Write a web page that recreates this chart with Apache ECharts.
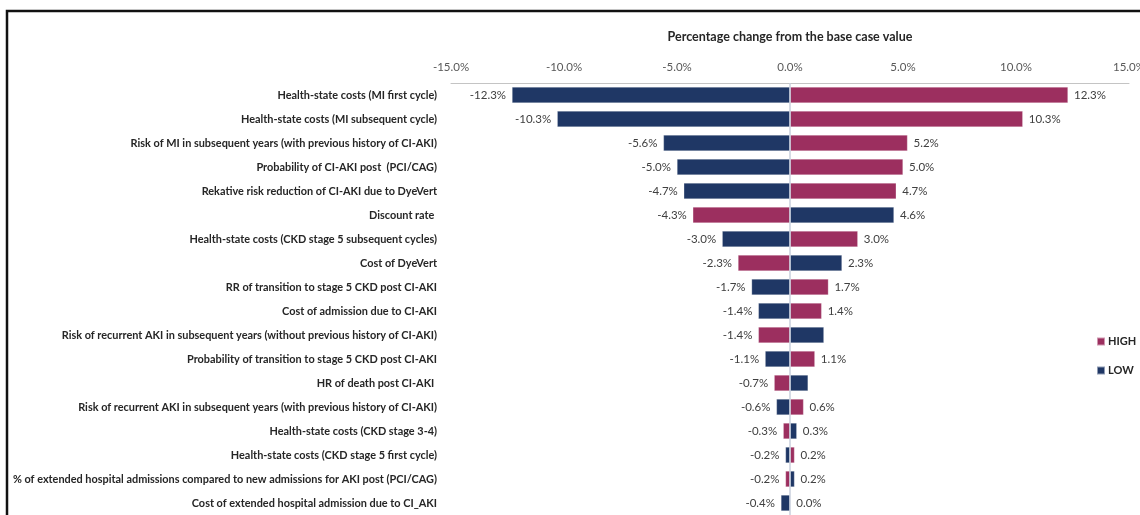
<!DOCTYPE html>
<html>
<head>
<meta charset="utf-8">
<script src="https://cdn.jsdelivr.net/npm/echarts@6/dist/echarts.min.js"></script>
<style>
html,body{margin:0;padding:0;background:#fff;}
#chart{width:1140px;height:515px;}
</style>
</head>
<body>
<div id="chart"></div>
<script>
const categories = [
  "Health-state costs (MI first cycle)",
  "Health-state costs (MI subsequent cycle)",
  "Risk of MI in subsequent years (with previous history of CI-AKI)",
  "Probability of CI-AKI post  (PCI/CAG)",
  "Rekative risk reduction of CI-AKI due to DyeVert",
  "Discount rate ",
  "Health-state costs (CKD stage 5 subsequent cycles)",
  "Cost of DyeVert",
  "RR of transition to stage 5 CKD post CI-AKI",
  "Cost of admission due to CI-AKI",
  "Risk of recurrent AKI in subsequent years (without previous history of CI-AKI)",
  "Probability of transition to stage 5 CKD post CI-AKI",
  "HR of death post CI-AKI ",
  "Risk of recurrent AKI in subsequent years (with previous history of CI-AKI)",
  "Health-state costs (CKD stage 3-4)",
  "Health-state costs (CKD stage 5 first cycle)",
  "% of extended hospital admissions compared to new admissions for AKI post (PCI/CAG)",
  "Cost of extended hospital admission due to CI_AKI"
];
const highValues = [12.3, 10.3, 5.2, 5.0, 4.7, -4.3, 3.0, -2.3, 1.7, 1.4, -1.4, 1.1, -0.7, 0.6, -0.3, 0.2, -0.2, 0.0];
const lowValues  = [-12.3, -10.3, -5.6, -5.0, -4.7, 4.6, -3.0, 2.3, -1.7, -1.4, 1.5, -1.1, 0.8, -0.6, 0.3, -0.2, 0.2, -0.4];
const lowUnlabelled = [10, 12];
const axisMin = -15, axisMax = 15, axisStep = 5;
const axisTitle = "Percentage change from the base case value";

const HIGH_COLOR = '#9c2f5f';
const LOW_COLOR = '#1f3765';
const FONT = 'Lato, "Liberation Sans", Arial, sans-serif';

function toItems(values, hidden) {
  return values.map((v, i) => ({
    value: v,
    label: {
      show: !(hidden || []).includes(i),
      position: v < 0 ? 'left' : 'right'
    }
  }));
}

const chart = echarts.init(document.getElementById('chart'), null, {renderer: 'canvas'});
const labelCommon = {
  distance: 6,
  fontFamily: FONT,
  fontSize: 11.5,
  color: '#404040',
  formatter: p => p.value.toFixed(1) + '%'
};
chart.setOption({
  animation: false,
  backgroundColor: '#fff',
  textStyle: {fontFamily: FONT},
  graphic: [{
    type: 'rect',
    shape: {x: 7, y: 11, width: 1300, height: 700},
    style: {fill: 'none', stroke: '#111', lineWidth: 2.5},
    silent: true
  }],
  legend: {
    data: ['HIGH', 'LOW'],
    orient: 'vertical',
    left: 1096,
    top: 336,
    padding: 0,
    itemWidth: 8,
    itemHeight: 8,
    itemGap: 18,
    icon: 'rect',
    textStyle: {fontFamily: FONT, fontSize: 11, fontWeight: 'bold', color: '#262626', padding: [0, 0, 0, -2]}
  },
  grid: {left: 451, right: 11, top: 83, bottom: 0, containLabel: false, outerBoundsMode: 'none'},
  xAxis: {
    type: 'value',
    position: 'top',
    min: axisMin,
    max: axisMax,
    interval: axisStep,
    name: axisTitle,
    nameLocation: 'middle',
    nameGap: 40,
    nameTextStyle: {fontFamily: FONT, fontSize: 12.5, fontWeight: 'bold', color: '#262626'},
    axisLine: {show: true, lineStyle: {color: '#c4c4c4', width: 1}},
    axisTick: {show: false},
    splitLine: {show: false},
    axisLabel: {
      margin: 10,
      fontFamily: FONT,
      fontSize: 11.5,
      color: '#595959',
      formatter: v => v.toFixed(1) + '%'
    }
  },
  yAxis: {
    type: 'category',
    data: categories,
    inverse: true,
    axisLine: {show: false},
    axisTick: {show: false},
    splitLine: {show: false},
    axisLabel: {
      margin: 14,
      fontFamily: FONT,
      fontSize: 10.9,
      fontWeight: 'bold',
      color: '#262626'
    }
  },
  series: [
    {
      name: 'HIGH',
      type: 'bar',
      stack: 'total',
      barWidth: 16,
      itemStyle: {color: HIGH_COLOR, borderColor: 'rgba(255,255,255,0.5)', borderWidth: 0.5},
      label: labelCommon,
      data: toItems(highValues),
      markLine: {
        silent: true,
        symbol: 'none',
        label: {show: false},
        lineStyle: {color: '#c9cfdc', type: 'solid', width: 1.5},
        data: [{xAxis: 0}]
      }
    },
    {
      name: 'LOW',
      type: 'bar',
      stack: 'total',
      barWidth: 16,
      itemStyle: {color: LOW_COLOR, borderColor: 'rgba(255,255,255,0.5)', borderWidth: 0.5},
      label: labelCommon,
      data: toItems(lowValues, lowUnlabelled)
    }
  ]
});
</script>
</body>
</html>
